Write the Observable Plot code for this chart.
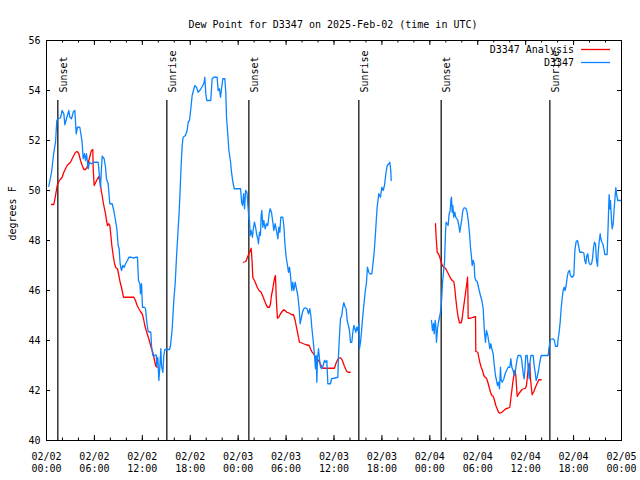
<!DOCTYPE html>
<html>
<head>
<meta charset="utf-8">
<script src="https://cdn.jsdelivr.net/npm/d3@7"></script>
<script src="https://cdn.jsdelivr.net/npm/@observablehq/plot@0.6"></script>
<style>
  html, body { margin: 0; padding: 0; background: #fff; }
</style>
</head>
<body>
<div id="chart"></div>
<script>
const titleText = "Dew Point for D3347 on 2025-Feb-02 (time in UTC)";
const yLabel = "degrees F";
const seriesNames = ["D3347 Analysis", "D3347"];
const seriesColors = ["#ff0000", "#0a84ff"];

// hours since 2025-02-02 00:00 UTC; null = gap
const obsHours = [
0.29,0.63,0.92,1.13,1.29,1.46,1.75,1.96,2.17,2.3,2.5,2.8,2.92,3.13,3.38,3.55,3.72,3.88,4.17,4.3,4.46,4.59,4.76,4.88,5.01,5.22,5.38,5.63,5.93,6.47,6.59,6.76,6.97,7.22,7.39,7.51,7.72,7.93,8.22,8.43,8.64,8.81,8.97,9.1,9.22,9.39,9.56,9.73,9.89,10.14,10.31,10.64,10.85,11.23,11.39,11.52,11.69,11.77,11.9,12.02,12.27,12.4,12.56,12.73,13.06,13.15,13.31,13.56,13.73,13.81,13.94,14.07,14.19,14.32,14.4,14.57,14.69,14.82,15.4,15.53,15.74,15.94,16.11,16.28,16.45,16.61,
16.74,16.86,16.99,17.11,17.4,17.61,17.74,17.9,18.07,18.24,18.4,18.57,18.78,18.99,19.28,19.57,19.74,19.82,19.95,20.07,20.57,20.74,20.95,21.37,21.49,21.66,21.79,22.0,22.08,22.33,22.46,22.54,22.71,22.84,23.05,23.17,23.34,23.51,24.3,24.43,24.55,24.68,24.8,24.93,25.1,25.22,25.35,
25.42,25.5,25.63,25.79,25.92,26.04,26.21,26.34,26.46,26.54,26.67,26.79,26.88,26.96,27.09,27.21,27.38,27.55,27.71,27.88,28.0,28.17,28.34,28.46,28.63,28.8,28.97,29.09,29.22,29.34,29.59,29.72,29.84,30.01,30.18,30.3,30.43,30.55,30.72,30.84,30.97,31.14,31.3,31.47,31.64,31.76,31.89,32.05,32.22,32.39,32.64,32.81,32.97,33.1,33.22,33.39,33.56,33.68,33.77,33.85,33.93,34.06,34.18,34.31,34.48,34.64,34.81,34.98,35.1,35.23,35.56,35.69,35.98,36.48,36.56,36.69,36.81,36.98,37.1,37.23,37.4,37.52,37.65,37.81,37.94,38.06,38.23,38.36,38.48,38.61,38.73,38.86,38.98,39.11,39.19,39.32,39.44,39.57,39.73,39.9,40.07,40.19,40.36,40.49,40.74,40.9,41.03,41.15,41.28,41.4,41.61,41.82,41.99,42.16,42.32,42.49,42.66,42.86,42.99,43.11,43.16,
null,
48.21,48.33,48.46,48.54,48.67,48.75,48.83,48.96,49.08,49.21,49.33,49.46,49.58,49.71,49.84,49.96,50.04,50.17,50.29,50.42,50.55,50.63,50.71,50.8,50.88,51.0,51.13,51.25,51.38,51.5,51.63,51.75,51.88,52.01,52.13,52.3,52.51,52.67,52.84,52.97,53.09,53.22,53.3,53.43,53.55,53.63,53.76,53.93,54.05,54.18,54.34,54.51,54.68,54.84,54.97,55.09,55.26,55.39,55.51,55.64,55.76,55.93,56.05,56.22,56.35,56.47,56.6,56.72,56.85,56.93,57.06,57.27,57.43,57.6,57.81,58.02,58.14,58.27,58.43,58.56,58.69,58.81,58.94,59.06,59.35,59.48,59.6,59.73,59.81,59.9,60.02,60.19,60.31,60.44,60.52,60.65,60.94,61.06,61.19,61.31,61.44,61.61,61.77,61.94,
62.82,62.9,63.11,63.4,63.61,63.73,63.99,64.07,64.19,64.32,64.44,64.57,64.69,64.82,64.94,65.07,65.2,65.32,65.49,65.61,65.82,66.03,66.16,66.32,66.49,66.66,66.78,67.07,67.28,67.41,67.53,67.66,67.78,67.91,68.08,68.25,68.37,68.5,68.62,68.74,68.87,69.0,69.08,69.2,69.33,69.41,69.54,69.66,69.79,69.91,70.2,70.33,70.45,70.54,70.62,70.75,70.83,70.96,71.08,71.21,71.29,71.41,71.54,71.79,72.0
];
const obsDew = [
50.17,50.73,51.53,51.93,52.8,52.87,52.9,53.2,53.07,52.63,52.87,53.2,52.93,52.87,53.16,53.2,52.27,52.53,52.53,52.27,51.93,51.27,51.47,51.2,51.47,50.87,51.13,51.07,51.13,51.13,50.73,50.13,51.37,51.27,50.93,50.47,50.27,49.47,49.47,49.2,48.8,48.47,47.8,47.67,47.07,46.8,47.0,46.93,47.07,47.2,47.33,47.33,47.3,47.33,47.33,46.4,46.27,45.87,46.27,45.33,45.33,45.27,44.73,44.36,44.33,43.8,43.4,43.4,43.43,43.0,43.33,42.4,42.93,43.67,43.0,42.73,43.4,43.64,43.64,43.8,44.47,45.6,46.27,47.33,48.27,49.13,
50.07,51.0,51.8,52.13,52.2,52.4,52.73,52.8,53.27,53.8,54.0,54.2,54.13,53.93,54.04,54.2,54.33,54.53,53.87,53.6,53.6,54.47,54.53,54.53,54.0,54.07,53.73,54.27,54.47,54.47,53.87,52.93,52.2,51.6,51.13,50.73,50.33,50.07,50.07,49.53,49.4,49.87,49.27,50.0,49.93,49.4,48.87,
48.8,48.2,48.4,48.13,48.53,48.73,48.47,48.2,48.07,47.87,48.33,48.2,49.0,49.2,48.53,48.8,48.47,48.67,48.6,49.07,49.27,49.13,48.73,48.4,48.67,48.4,48.07,48.53,48.33,48.93,48.93,48.6,47.93,47.33,47.0,46.73,46.93,46.6,46.0,46.33,46.0,46.33,46.07,45.8,45.27,44.67,44.87,45.13,45.27,45.31,45.27,45.07,45.27,45.0,44.53,44.0,43.4,42.87,43.4,42.33,43.27,43.67,43.27,42.93,42.87,43.0,43.2,43.13,43.2,42.27,42.27,42.47,42.49,42.53,43.4,44.2,44.87,45.0,45.33,45.51,45.33,45.27,44.8,44.6,44.4,43.93,43.93,44.33,44.6,44.47,44.33,44.53,44.4,44.67,43.67,43.93,44.33,44.87,45.4,45.93,46.33,46.93,46.73,46.67,46.67,47.13,47.53,48.07,48.73,49.33,49.87,49.73,50.13,50.0,50.2,50.67,51.0,51.07,51.13,50.8,50.4,
null,
44.8,44.4,44.67,44.27,44.8,44.6,43.93,44.47,44.73,44.93,45.13,45.53,46.27,46.73,47.13,48.33,48.73,48.67,48.6,49.07,49.2,49.6,49.73,49.13,49.4,48.93,49.13,48.93,48.87,48.8,48.6,48.33,48.6,48.87,49.2,49.31,49.29,49.13,48.73,48.27,47.73,47.33,47.0,47.2,47.07,46.53,46.4,46.36,46.2,46.0,45.8,45.6,45.27,44.33,43.93,44.4,44.2,43.93,43.67,43.87,43.67,43.47,43.07,42.6,42.4,42.2,42.33,42.07,42.93,42.4,42.33,42.47,42.67,42.8,42.93,42.93,43.27,42.93,42.8,42.6,42.73,43.0,43.27,43.4,43.4,43.27,42.93,42.6,42.47,42.8,43.4,43.4,42.93,42.47,43.07,43.4,43.4,43.0,42.73,42.4,42.53,42.8,43.13,43.4,
43.4,43.67,44.04,44.07,44.0,43.77,43.77,44.07,44.33,44.73,45.27,45.67,46.0,46.13,46.0,46.2,46.53,46.73,46.8,46.6,46.53,46.6,47.6,47.96,48.0,47.73,47.53,47.53,47.51,47.2,47.07,47.4,47.47,47.13,47.03,47.07,47.27,47.73,47.93,47.87,47.2,46.97,47.53,47.93,48.27,48.07,47.93,47.87,47.67,47.44,47.44,48.63,49.83,49.27,49.6,48.8,48.47,48.67,49.27,49.8,50.11,49.8,49.6,49.6,49.6
];

const anaHours = [
0.63,0.92,1.13,1.34,1.54,1.71,1.96,2.17,2.38,2.59,2.8,3.01,3.21,3.42,3.63,3.84,4.05,4.26,4.47,4.67,4.88,5.09,5.3,5.51,5.63,5.8,5.84,5.97,6.14,6.34,6.55,6.72,6.85,6.97,7.1,7.22,7.39,7.51,7.64,7.81,7.93,8.06,8.18,8.35,8.52,8.68,8.89,9.06,9.22,9.39,9.52,9.64,9.89,10.94,11.14,11.35,11.56,11.77,11.98,12.15,12.31,12.48,12.65,12.81,12.98,13.15,13.31,13.44,13.56,13.69,13.86,
null,
24.67,24.96,25.17,25.38,25.54,25.63,25.75,25.83,26.04,26.21,26.38,26.63,26.88,27.05,27.21,27.38,27.55,27.71,27.92,28.05,28.17,28.34,28.46,28.59,28.67,28.76,28.84,28.92,29.09,29.3,29.51,29.72,29.88,30.09,30.3,30.51,30.72,30.93,31.14,31.3,31.43,31.55,31.68,31.89,32.18,32.51,32.89,33.06,33.26,33.47,33.64,33.85,34.06,34.27,34.48,34.68,34.98,35.31,35.73,36.06,36.23,36.4,36.56,36.77,36.94,37.1,37.27,37.44,37.61,37.77,38.02,
null,
48.71,48.79,48.92,49.08,49.25,49.42,49.58,49.75,49.96,50.17,50.38,50.59,50.8,51.0,51.13,51.25,51.42,51.55,51.71,51.92,52.05,52.17,52.34,52.51,52.63,52.72,52.76,52.8,53.09,53.43,53.72,53.76,54.01,54.13,54.26,54.43,54.59,54.76,54.93,55.09,55.26,55.43,55.6,55.76,55.93,56.1,56.26,56.43,56.6,56.76,57.01,57.27,57.52,57.77,58.02,58.14,58.27,58.39,58.52,58.64,58.77,58.85,58.94,59.14,59.35,59.56,59.77,59.98,60.1,60.19,60.27,60.4,60.52,60.6,60.73,60.81,61.02,61.23,61.44,61.65,61.94
];
const anaDew = [
49.44,49.44,49.8,50.2,50.36,50.44,50.53,50.73,50.87,51.0,51.07,51.13,51.27,51.4,51.53,51.56,51.47,51.2,51.0,50.84,50.84,50.93,51.2,51.47,51.6,51.64,50.93,50.2,50.31,50.44,50.56,50.33,50.0,49.8,49.53,49.33,49.07,48.8,48.6,48.67,48.6,48.2,47.8,47.4,47.07,46.91,46.87,46.6,46.33,46.13,45.93,45.73,45.73,45.73,45.6,45.4,45.27,45.16,45.07,44.87,44.6,44.4,44.23,44.07,43.87,43.67,43.53,43.33,43.16,42.97,42.93,
null,
47.13,47.16,47.33,47.51,47.6,47.69,47.13,46.53,46.4,46.27,46.13,46.0,45.93,45.8,45.67,45.53,45.4,45.33,45.33,45.47,45.8,46.07,46.33,46.53,46.6,45.8,45.27,44.89,44.93,45.07,45.16,45.23,45.2,45.13,45.11,45.07,45.03,45.03,44.8,44.53,44.33,44.13,43.93,43.91,43.87,43.83,43.8,43.67,43.53,43.47,43.33,43.27,43.2,43.07,42.96,42.89,42.89,42.89,42.89,42.89,43.07,43.2,43.29,43.31,43.27,43.16,43.0,42.87,42.76,42.73,42.73,
null,
48.67,48.13,47.53,47.47,47.33,47.13,47.0,46.93,46.89,46.76,46.63,46.49,46.4,46.36,46.07,45.67,45.2,44.93,44.71,44.71,44.87,45.2,45.6,46.0,46.27,46.53,46.07,44.89,44.89,44.93,44.95,43.56,43.53,43.33,43.13,42.93,42.8,42.6,42.53,42.49,42.33,42.13,41.93,41.8,41.77,41.6,41.4,41.27,41.13,41.09,41.13,41.2,41.27,41.29,41.33,41.67,42.0,42.33,42.6,42.8,42.6,42.2,41.76,41.87,41.96,42.04,42.07,42.09,42.2,42.47,42.73,43.07,43.07,42.47,42.07,41.83,41.96,42.13,42.29,42.43,42.43
];

const sunHours = [1.42, 15.07, 25.34, 39.11, 49.42, 63.03];
const sunLabels = ["Sunset", "Sunrise", "Sunset", "Sunrise", "Sunset", "Sunrise"];
const yTicks = [40, 42, 44, 46, 48, 50, 52, 54, 56];
const xTickHours = [0, 6, 12, 18, 24, 30, 36, 42, 48, 54, 60, 66, 72];
const xTickDates = ["02/02","02/02","02/02","02/02","02/03","02/03","02/03","02/03","02/04","02/04","02/04","02/04","02/05"];
const xTickTimes = ["00:00","06:00","12:00","18:00","00:00","06:00","12:00","18:00","00:00","06:00","12:00","18:00","00:00"];
const xMinorHours = d3.range(0, 73, 2);

const base = Date.UTC(2025, 1, 2);
const toDate = h => (h == null ? null : new Date(base + h * 3600e3));

const obs = obsHours.map((h, i) => ({t: toDate(h), v: obsDew[i]}));
const ana = anaHours.map((h, i) => ({t: toDate(h), v: anaDew[i]}));
const sun = sunHours.map((h, i) => ({t: toDate(h), label: sunLabels[i]}));
const xTicks = xTickHours.map((h, i) => ({t: toDate(h), label: xTickDates[i] + "\n" + xTickTimes[i]}));
const xMinor = xMinorHours.map(toDate);

const W = 640, H = 480, ML = 46, MR = 19, MT = 40, MB = 40;
const PW = W - ML - MR, PH = H - MT - MB;
const font = "DejaVu Sans Mono";

function legendMark(index, scales, values, dims) {
  const g = d3.create("svg:g");
  const rows = [{y: 49.5}, {y: 62.5}];
  rows.forEach((r, i) => {
    g.append("text")
      .attr("x", 574).attr("y", r.y).attr("dy", "0.32em")
      .attr("text-anchor", "end")
      .attr("font-family", font).attr("font-size", 10)
      .attr("fill", "black")
      .text(seriesNames[i]);
    g.append("line")
      .attr("x1", 581).attr("x2", 610).attr("y1", r.y).attr("y2", r.y)
      .attr("stroke", seriesColors[i]).attr("stroke-width", 1.3);
  });
  return g.node();
}

const chart = Plot.plot({
  width: W, height: H,
  marginLeft: ML, marginRight: MR, marginTop: MT, marginBottom: MB,
  style: {fontFamily: font, fontSize: "10px", background: "white", color: "black", overflow: "visible"},
  x: {type: "utc", domain: [toDate(0), toDate(72)], axis: null},
  y: {domain: [40, 56], axis: null},
  marks: [
    // sunrise / sunset
    Plot.ruleX(sun, {x: "t", insetTop: 60, stroke: "black", strokeWidth: 1.2}),
    Plot.text(sun, {x: "t", text: "label", frameAnchor: "top", rotate: -90, textAnchor: "start", dy: 52, dx: 2, fill: "black"}),
    // data
    Plot.line(ana, {x: "t", y: "v", stroke: seriesColors[0], strokeWidth: 1.3}),
    Plot.line(obs, {x: "t", y: "v", stroke: seriesColors[1], strokeWidth: 1.3}),
    // frame + ticks
    Plot.frame({stroke: "black", strokeWidth: 1}),
    Plot.tickY(yTicks, {y: d => d, insetRight: PW - 4, stroke: "black"}),
    Plot.tickY(yTicks, {y: d => d, insetLeft: PW - 4, stroke: "black"}),
    Plot.tickX(xTicks, {x: "t", insetTop: PH - 5, stroke: "black"}),
    Plot.tickX(xTicks, {x: "t", insetBottom: PH - 5, stroke: "black"}),
    Plot.tickX(xMinor, {x: d => d, insetTop: PH - 2.5, stroke: "black"}),
    Plot.tickX(xMinor, {x: d => d, insetBottom: PH - 2.5, stroke: "black"}),
    // tick labels
    Plot.text(yTicks, {y: d => d, text: d => String(d), frameAnchor: "left", textAnchor: "end", dx: -6, fill: "black"}),
    Plot.text(xTicks, {x: "t", text: "label", frameAnchor: "bottom", lineAnchor: "top", lineHeight: 1.2, dy: 11, fill: "black"}),
    // titles
    Plot.text([titleText], {text: d => d, frameAnchor: "top", dy: -20, dx: -1, fill: "black"}),
    Plot.text([yLabel], {text: d => d, frameAnchor: "left", rotate: -90, dx: -34, fill: "black"}),
    legendMark
  ]
});

document.getElementById("chart").appendChild(chart);
</script>
</body>
</html>
